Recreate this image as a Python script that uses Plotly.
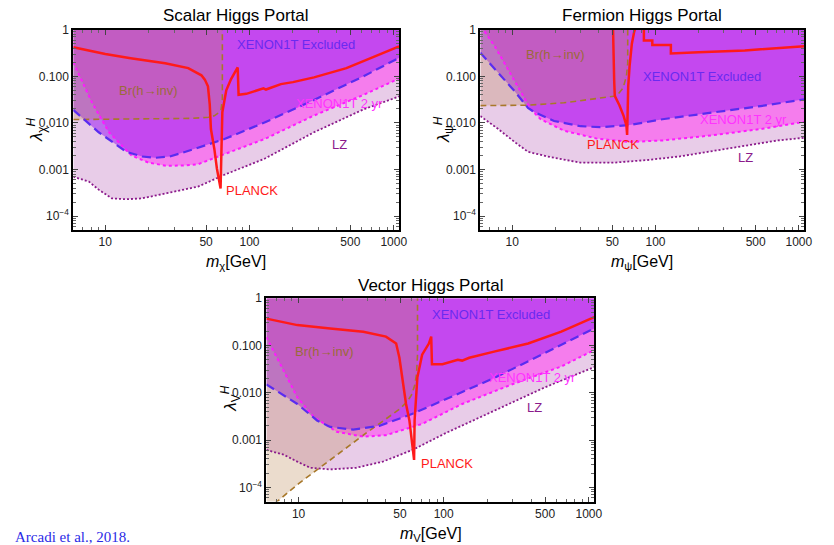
import math
import plotly.graph_objects as go

# ---------------- data ----------------
# Scalar Higgs portal
sc_xenon_x = [6, 9, 14, 18, 22, 28, 36, 67, 127, 280, 617, 1090]
sc_xenon_y = [0.019, 0.0063, 0.0024, 0.0019, 0.00178, 0.0019, 0.0024, 0.0045, 0.0102, 0.031, 0.1, 0.25]
sc_2yr_x = [6, 8.1, 10.6, 15.2, 20, 26.7, 35, 44, 74, 127, 280, 617, 1090]
sc_2yr_y = [0.2, 0.027, 0.0063, 0.002, 0.0014, 0.0012, 0.00122, 0.0013, 0.0024, 0.0045, 0.0144, 0.04, 0.09]
sc_lz_x = [6, 7.7, 9, 11.1, 14, 17.9, 26.7, 44, 67.5, 127, 280, 617, 1090]
sc_lz_y = [0.0007, 0.00055, 0.00037, 0.00024, 0.00023, 0.00024, 0.00031, 0.00043, 0.00078, 0.0017, 0.0063, 0.0195, 0.037]
sc_br_x = [6, 20, 40, 52, 57, 61, 63.5, 64.8, 64.8]
sc_br_y = [0.0118, 0.012, 0.0125, 0.0132, 0.0142, 0.0165, 0.0196, 0.032, 1.0]
sc_pl_x = [6, 10, 15, 26, 37.6, 44, 46.4, 49, 51.5, 53, 54, 57, 59.4, 63, 63.5, 64, 64.8, 69, 74.5, 82.8,
           84, 95, 110, 125, 130, 140, 165, 200, 280, 470, 1090]
sc_pl_y = [0.42, 0.3, 0.245, 0.19, 0.15, 0.117, 0.105, 0.085, 0.061, 0.025, 0.0074, 0.0028, 0.00105, 0.00039,
           0.0015, 0.0054, 0.017, 0.05, 0.087, 0.155, 0.04, 0.042, 0.048, 0.055, 0.052, 0.056, 0.068, 0.075,
           0.095, 0.15, 0.44]

# Fermion Higgs portal
fe_xenon_x = [6, 8.45, 10.4, 12.9, 14.3, 19.6, 30, 41, 66, 112, 247, 543, 1090]
fe_xenon_y = [0.32, 0.1, 0.048, 0.021, 0.017, 0.011, 0.0085, 0.0081, 0.009, 0.012, 0.0167, 0.023, 0.032]
fe_2yr_x = [6, 6.3, 7.6, 9.4, 11.6, 13.5, 15.8, 23, 39, 66, 112, 247, 543, 1090]
fe_2yr_y = [1.6, 1.0, 0.43, 0.138, 0.044, 0.0196, 0.012, 0.0068, 0.0046, 0.0039, 0.0042, 0.0054, 0.0074, 0.0105]
fe_lz_x = [6, 8, 10.4, 12.9, 17.7, 30, 50.7, 88, 146, 321, 710, 1090]
fe_lz_y = [0.014, 0.0074, 0.0039, 0.0024, 0.0019, 0.0014, 0.0014, 0.0016, 0.0019, 0.0028, 0.0042, 0.0048]
fe_br_x = [6, 13, 23, 39, 53.5, 59.4, 62.7, 64, 64]
fe_br_y = [0.0235, 0.024, 0.027, 0.033, 0.038, 0.056, 0.1, 0.19, 1.0]
fe_pl_x = [50.5, 50.8, 51.5, 52, 56, 60, 62.7, 63.4, 63.6, 64.5, 66, 68.4, 71, 73, None,
           83, 83, 95, 95, 128, 128, 200, 420, 1090]
fe_pl_y = [1.2, 0.3, 0.08, 0.038, 0.024, 0.014, 0.0087, 0.0055, 0.02, 0.06, 0.17, 0.5, 0.9, 1.2, None,
           1.2, 0.59, 0.59, 0.47, 0.47, 0.31, 0.33, 0.36, 0.44]

# Vector Higgs portal
ve_xenon_x = [6, 9.8, 13.4, 16.5, 23.8, 36, 61, 103, 226, 497, 1090]
ve_xenon_y = [0.015, 0.0058, 0.0026, 0.0019, 0.00166, 0.002, 0.0036, 0.0074, 0.021, 0.069, 0.23]
ve_2yr_x = [6, 7.9, 9.8, 12.7, 18.3, 27.9, 40, 71, 134, 294, 646, 1090]
ve_2yr_y = [0.15, 0.029, 0.008, 0.0031, 0.0015, 0.00118, 0.00127, 0.0022, 0.0058, 0.015, 0.036, 0.08]
ve_lz_x = [6, 7.9, 9.8, 12, 16.5, 25, 38, 61, 103, 226, 497, 1090]
ve_lz_y = [0.00062, 0.00049, 0.00035, 0.00026, 0.00024, 0.00026, 0.00035, 0.00062, 0.0014, 0.0042, 0.013, 0.035]
ve_br_x = [6, 7.1, 10, 14, 20, 30, 40, 50, 56, 60, 63, 65, 66, 66]
ve_br_y = [3.5e-5, 5e-5, 1.2e-4, 2.6e-4, 6e-4, 1.5e-3, 2.8e-3, 4.6e-3, 6.5e-3, 0.009, 0.014, 0.025, 0.065, 1.0]
ve_pl_x = [6, 9.8, 16.5, 27.9, 40, 47, 49.5, 52, 55, 58, 61, 62.5, 63, 65.8, 71, 79, 82, 83, 98, 125,
           134, 150, 226, 382, 646, 1090]
ve_pl_y = [0.37, 0.27, 0.23, 0.196, 0.154, 0.11, 0.055, 0.018, 0.0058, 0.0026, 0.00085, 0.00038, 0.0026,
           0.021, 0.064, 0.11, 0.154, 0.04, 0.04, 0.05, 0.048, 0.055, 0.075, 0.11, 0.196, 0.4]

x_tickvals = [10, 50, 100, 500, 1000]
x_ticktext = ["10", "50", "100", "500", "1000"]
y_tickvals = [1e-4, 1e-3, 1e-2, 1e-1, 1]
y_ticktext = ["10<sup>\u22124</sup>", "0.001", "0.010", "0.100", "1"]

X_MIN, X_MAX = 6, 1090
Y_TOP = 1.0

# ---------------- styles ----------------
W, H = 834, 545
TOP_SHIFT = 3  # pixels the upper row is raised
C_LZ_FILL = "rgba(190,110,190,0.35)"
C_2YR_FILL = "rgba(255,60,240,0.55)"
C_XE_FILL = "rgba(155,30,240,0.55)"
C_BR_FILL = "rgba(190,140,90,0.3)"
C_XE = "#5a2cf0"
C_2YR = "#ff19ff"
C_LZ = "#8b1a8b"
C_BR = "#a8782a"
C_PL = "#ff1a1a"
FONT = "Liberation Sans, Arial, sans-serif"

fig = go.Figure()


def upper_fill(ax, xs, ys, color):
    px = list(xs) + [xs[-1], xs[0]]
    py = list(ys) + [Y_TOP, Y_TOP]
    fig.add_trace(go.Scatter(x=px, y=py, mode="lines", fill="toself", fillcolor=color,
                             line=dict(width=0), hoverinfo="skip", showlegend=False,
                             xaxis="x" + ax, yaxis="y" + ax))


def br_fill(ax, xs, ys, color):
    px = list(xs) + [xs[0]]
    py = list(ys) + [Y_TOP]
    fig.add_trace(go.Scatter(x=px, y=py, mode="lines", fill="toself", fillcolor=color,
                             line=dict(width=0), hoverinfo="skip", showlegend=False,
                             xaxis="x" + ax, yaxis="y" + ax))


def line(ax, xs, ys, color, width, dash):
    fig.add_trace(go.Scatter(x=xs, y=ys, mode="lines", line=dict(color=color, width=width, dash=dash),
                             connectgaps=False, hoverinfo="skip", showlegend=False,
                             xaxis="x" + ax, yaxis="y" + ax))


panels = [
    ("", sc_xenon_x, sc_xenon_y, sc_2yr_x, sc_2yr_y, sc_lz_x, sc_lz_y, sc_br_x, sc_br_y, sc_pl_x, sc_pl_y),
    ("2", fe_xenon_x, fe_xenon_y, fe_2yr_x, fe_2yr_y, fe_lz_x, fe_lz_y, fe_br_x, fe_br_y, fe_pl_x, fe_pl_y),
    ("3", ve_xenon_x, ve_xenon_y, ve_2yr_x, ve_2yr_y, ve_lz_x, ve_lz_y, ve_br_x, ve_br_y, ve_pl_x, ve_pl_y),
]

for ax, xx, xy, tx, ty, lx, ly, bx, by, plx, ply in panels:
    upper_fill(ax, lx, ly, C_LZ_FILL)
    upper_fill(ax, tx, ty, C_2YR_FILL)
    upper_fill(ax, xx, xy, C_XE_FILL)
    br_fill(ax, bx, by, C_BR_FILL)
    line(ax, bx, by, C_BR, 1.6, "6px,4px")
    line(ax, lx, ly, C_LZ, 1.8, "2px,2px")
    line(ax, tx, ty, C_2YR, 2, "3px,3px")
    line(ax, xx, xy, C_XE, 2.2, "9px,5px")
    line(ax, plx, ply, C_PL, 2.5, "solid")

# ---------------- axes ----------------
minor_x = [m * 10 ** d for d in range(0, 4) for m in range(2, 10) if X_MIN <= m * 10 ** d <= X_MAX]
minor_y = [m * 10.0 ** d for d in range(-5, 0) for m in range(2, 10)]


def xaxis(domain, anchor):
    return dict(domain=domain, anchor=anchor, type="log",
                range=[math.log10(X_MIN), math.log10(X_MAX)],
                tickmode="array", tickvals=x_tickvals, ticktext=x_ticktext,
                ticks="inside", ticklen=5, tickwidth=1, tickcolor="#444",
                showline=True, linewidth=2, linecolor="black", mirror="allticks",
                showgrid=False, zeroline=False,
                tickfont=dict(family=FONT, size=12, color="#222"),
                minor=dict(tickmode="array", tickvals=minor_x, ticks="inside", ticklen=3,
                           tickcolor="#666", showgrid=False))


def yaxis(domain, anchor):
    return dict(domain=domain, anchor=anchor, type="log",
                range=[-4.3, 0],
                tickmode="array", tickvals=y_tickvals, ticktext=y_ticktext,
                ticks="inside", ticklen=5, tickwidth=1, tickcolor="#444",
                showline=True, linewidth=2, linecolor="black", mirror="allticks",
                showgrid=False, zeroline=False,
                tickfont=dict(family=FONT, size=12, color="#222"),
                minor=dict(tickmode="array", tickvals=minor_y, ticks="inside", ticklen=3,
                           tickcolor="#666", showgrid=False))


def dom_x(a, b):
    return [a / W, b / W]


def dom_y(top, bottom):
    return [1 - bottom / H, 1 - top / H]


T = TOP_SHIFT
fig.update_layout(
    width=W, height=H, autosize=False,
    margin=dict(l=0, r=0, t=0, b=0),
    paper_bgcolor="white", plot_bgcolor="white",
    xaxis=xaxis(dom_x(74, 403), "y"), yaxis=yaxis(dom_y(26 - T, 229 - T), "x"),
    xaxis2=xaxis(dom_x(485, 812), "y2"), yaxis2=yaxis(dom_y(26 - T, 229 - T), "x2"),
    xaxis3=xaxis(dom_x(269, 600), "y3"), yaxis3=yaxis(dom_y(295, 501), "x3"),
)

# ---------------- text ----------------
def ann(text, px, py, color="black", size=13, angle=0, family=FONT):
    fig.add_annotation(text=text, x=px / W, y=1 - py / H, xref="paper", yref="paper",
                       showarrow=False, xanchor="center", yanchor="middle", textangle=angle,
                       font=dict(family=family, size=size, color=color))


ann("Scalar Higgs Portal", 238, 12 - T, size=17)
ann("Fermion Higgs Portal", 648, 12 - T, size=17)
ann("Vector Higgs Portal", 435, 282, size=17)
ann("<i>m</i><sub>\u03c7</sub>[GeV]", 238, 262 - T, size=16)
ann("<i>m</i><sub>\u03c8</sub>[GeV]", 648, 262 - T, size=16)
ann("<i>m</i><sub>V</sub>[GeV]", 435, 534, size=16)
ann("<i>\u03bb</i><sub>\u03c7</sub><sup><i>H</i></sup>", 37, 127 - T, size=17, angle=-90)
ann("<i>\u03bb</i><sub>\u03c8</sub><sup><i>H</i></sup>", 448, 127 - T, size=17, angle=-90)
ann("<i>\u03bb</i><sub>V</sub><sup><i>H</i></sup>", 233, 397, size=17, angle=-90)

C_TXE = "#6a2af0"
C_TBR = "#9a6a3a"
C_T2 = "#ff33ff"
# scalar
ann("XENON1T Excluded", 299, 41 - T, C_TXE, 13)
ann("Br(h\u2192inv)", 150, 88 - T, C_TBR, 13)
ann("XENON1T 2 yr", 343, 101 - T, C_T2, 13)
ann("LZ", 343, 142 - T, C_LZ, 13)
ann("PLANCK", 254, 189 - T, C_PL, 13)
# fermion
ann("Br(h\u2192inv)", 561, 51 - T, C_TBR, 13)
ann("XENON1T Excluded", 709, 73 - T, C_TXE, 13)
ann("XENON1T 2 yr", 751, 117 - T, C_T2, 13)
ann("PLANCK", 619, 142 - T, C_PL, 13)
ann("LZ", 753, 155 - T, C_LZ, 13)
# vector
ann("XENON1T Excluded", 496, 312, C_TXE, 13)
ann("Br(h\u2192inv)", 328, 349, C_TBR, 13)
ann("XENON1T 2 yr", 538, 375, C_T2, 13)
ann("LZ", 540, 406, C_LZ, 13)
ann("PLANCK", 451, 462, C_PL, 13)

fig.add_annotation(text="Arcadi et al., 2018.", x=13 / W, y=1 - 537 / H, xref="paper", yref="paper",
                   showarrow=False, xanchor="left", yanchor="middle",
                   font=dict(family="Liberation Serif, DejaVu Serif, serif", size=15, color="#2a2ae6"))

fig.write_html("out.html", config={"displayModeBar": False},
               post_script="document.body.style.margin='0';document.body.style.overflow='hidden';")
